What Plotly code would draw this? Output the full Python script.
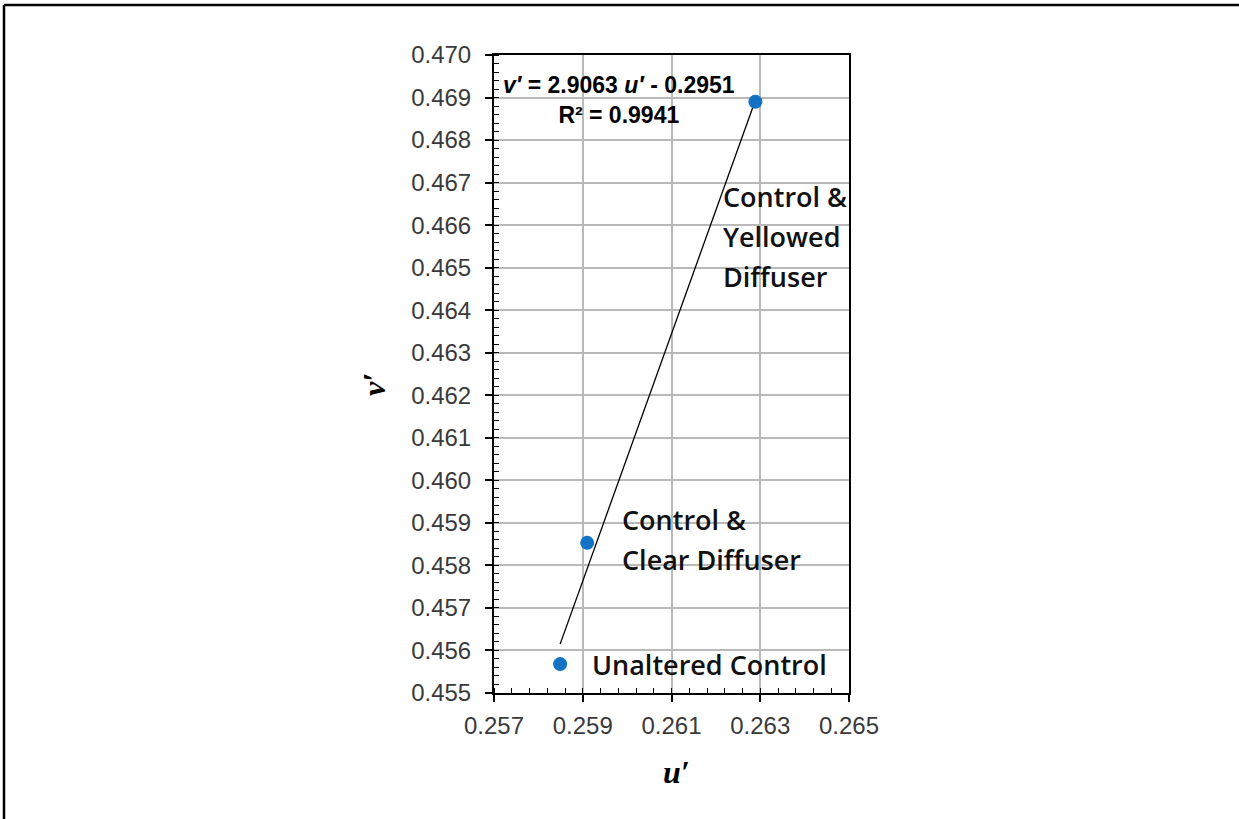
import plotly.graph_objects as go
import numpy as np

# ---- data ----
u_vals = [0.25849, 0.25910, 0.26289]
v_vals = [0.45568, 0.45853, 0.46890]
point_labels = [["Unaltered Control"],
                ["Control &", "Clear Diffuser"],
                ["Control &", "Yellowed", "Diffuser"]]
trend_slope = 2.9063
trend_intercept = -0.2951
r_squared = 0.9941
x_ticks = [0.257, 0.259, 0.261, 0.263, 0.265]
y_ticks = [round(0.455 + 0.001 * i, 3) for i in range(16)]

W, H = 1239, 819
L, R, T, B = 494, 390, 55, 126
pw, ph = W - L - R, H - T - B

def px_x(x):
    return (x - L) / pw

def px_y(y):
    return (H - B - y) / ph

fig = go.Figure()

# trendline over data range
tu = np.array([min(u_vals), max(u_vals)])
tv = trend_slope * tu + trend_intercept
fig.add_trace(go.Scatter(x=tu, y=tv, mode="lines",
                         line=dict(color="black", width=1.3),
                         hoverinfo="skip", showlegend=False))

fig.add_trace(go.Scatter(x=u_vals, y=v_vals, mode="markers",
                         marker=dict(color="#1472C4", size=14),
                         showlegend=False))

# data labels (offsets in pixels, relative to points)
label_font = dict(family="Open Sans", size=27, color="#111111", weight=600)
offsets = [(30, 0), (33, 3), (-34, -135)]
line_gap = 40
annotations = []
for (u, v), lines, (dx, dy) in zip(zip(u_vals, v_vals), point_labels, offsets):
    n = len(lines)
    for k, txt in enumerate(lines):
        shift = dy + ((n - 1) / 2 - k) * line_gap
        annotations.append(dict(x=u, y=v, xref="x", yref="y", text=txt,
                                showarrow=False, xanchor="left", yanchor="middle",
                                xshift=dx, yshift=shift, font=label_font))

# equation text box
eq_text = (f"<b><i>v′</i> = {trend_slope:.4f} <i>u′</i> - {abs(trend_intercept):.4f}</b>"
           f"<br><b>R² = {r_squared:.4f}</b>")
annotations.append(dict(x=px_x(619), y=px_y(100), xref="paper", yref="paper",
                        text=eq_text, showarrow=False, align="center",
                        xanchor="center", yanchor="middle",
                        font=dict(family="Liberation Sans, Arial", size=23, color="black")))

# axis titles
title_font = dict(family="Liberation Serif, Times New Roman", size=32, color="black")
annotations.append(dict(x=px_x(676), y=px_y(772), xref="paper", yref="paper",
                        text="<b><i>u′</i></b>", showarrow=False,
                        xanchor="center", yanchor="middle", font=title_font))
annotations.append(dict(x=px_x(374), y=px_y(385), xref="paper", yref="paper",
                        text="<b><i>v′</i></b>", showarrow=False, textangle=-90,
                        xanchor="center", yanchor="middle", font=title_font))

tick_font = dict(family="Liberation Sans, Arial", size=24, color="#3a3a3a")
axis_common = dict(showline=True, linecolor="black", linewidth=2, mirror=True,
                   showgrid=True, gridcolor="#b9b9b9", gridwidth=1.5,
                   ticks="outside", ticklen=7, tickwidth=1.5, tickcolor="black",
                   tickfont=tick_font, zeroline=False, tickformat=".3f")

fig.update_layout(
    width=W, height=H,
    margin=dict(l=L, r=R, t=T, b=B),
    paper_bgcolor="white", plot_bgcolor="white",
    annotations=annotations,
    xaxis=dict(range=[0.257, 0.265], tickvals=x_ticks, ticklabelstandoff=3,
               minor=dict(ticks="inside", dtick=0.0004, tick0=0.257, ticklen=5,
                          tickcolor="black", tickwidth=1.2, showgrid=False),
               **axis_common),
    yaxis=dict(range=[0.455, 0.470], tickvals=y_ticks, ticklabelstandoff=9,
               minor=dict(ticks="inside", dtick=0.0002, tick0=0.455, ticklen=5,
                          tickcolor="black", tickwidth=1.2, showgrid=False),
               **axis_common),
    shapes=[
        dict(type="line", xref="paper", yref="paper",
             x0=px_x(4), x1=px_x(W + 5), y0=px_y(5), y1=px_y(5),
             line=dict(color="black", width=2.5)),
        dict(type="line", xref="paper", yref="paper",
             x0=px_x(4), x1=px_x(4), y0=px_y(5), y1=px_y(H + 5),
             line=dict(color="black", width=2.5)),
    ],
)

fig.write_html("out.html")
